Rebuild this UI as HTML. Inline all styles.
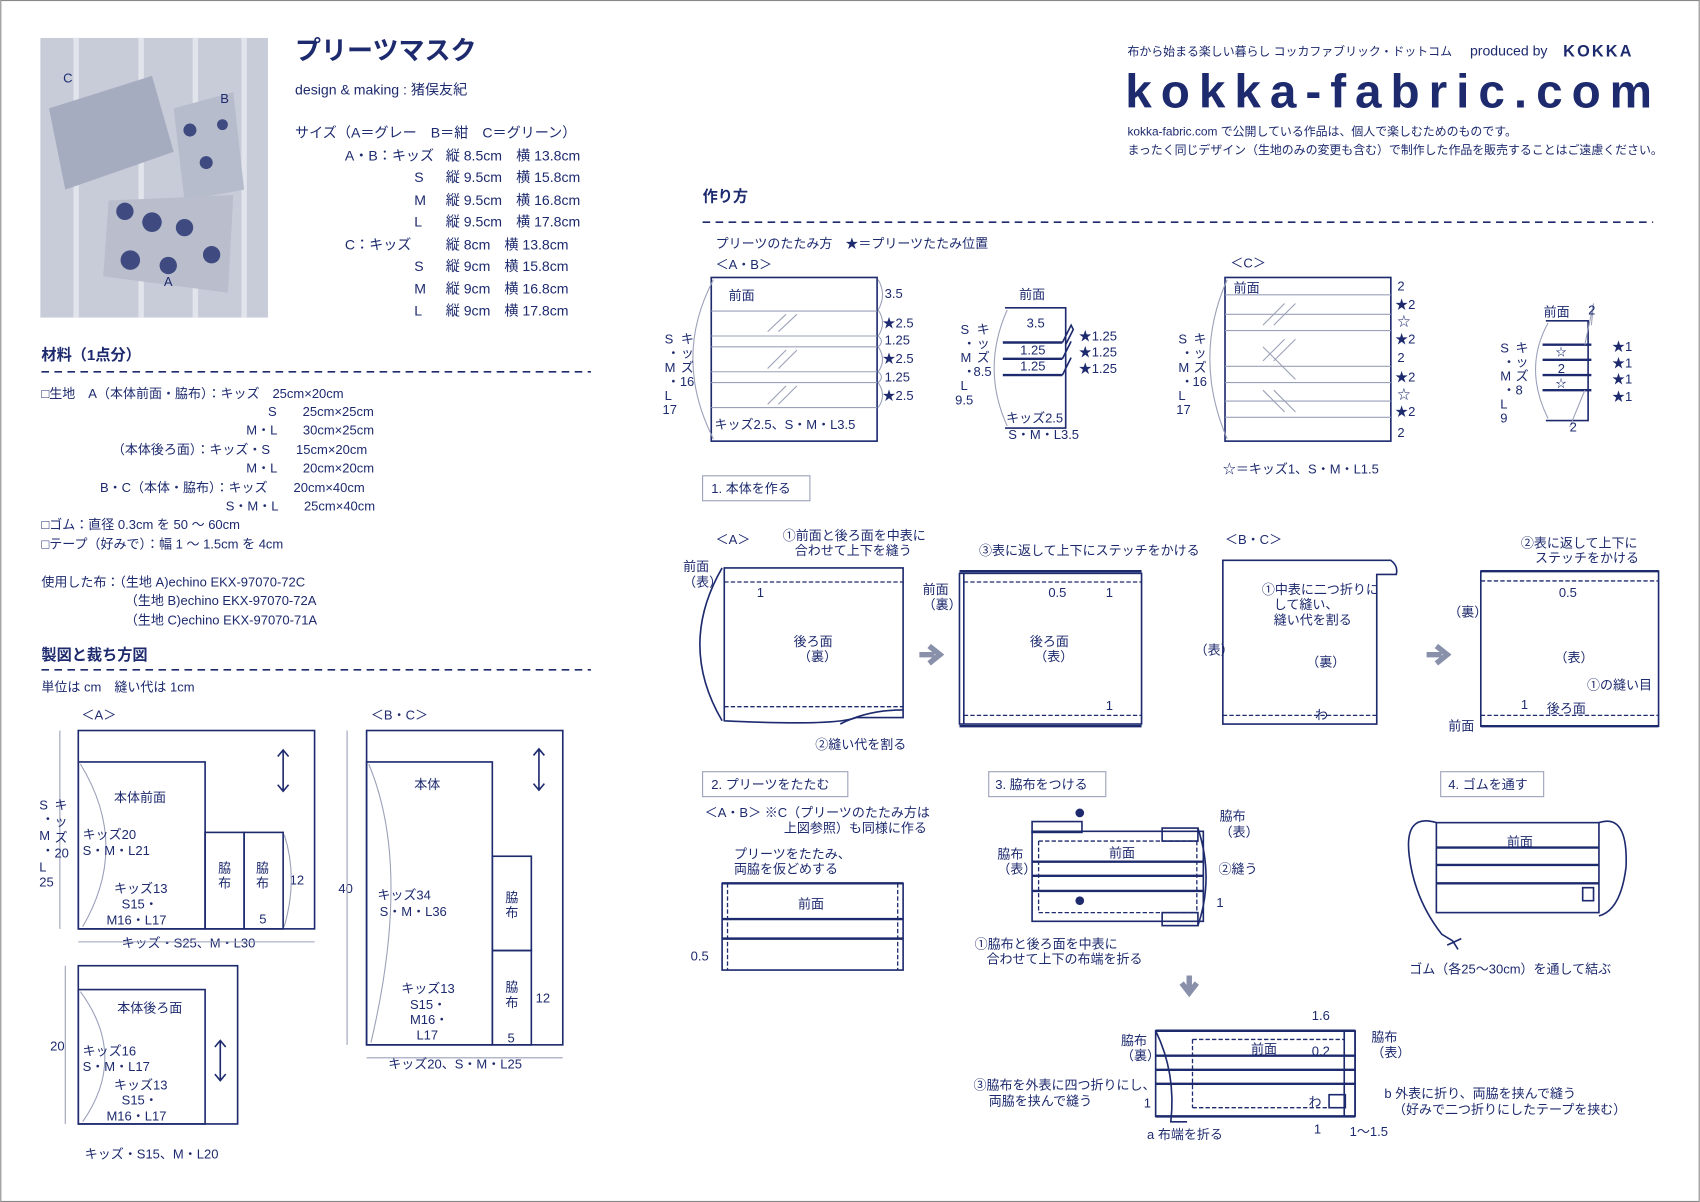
<!DOCTYPE html>
<html><head><meta charset="utf-8"><style>
html,body{margin:0;padding:0;background:#fff}
svg{display:block}
text{font-family:"Liberation Sans","Noto Sans CJK JP",sans-serif;fill:#1d2a6e;font-size:12px}
.b{font-weight:bold}
.l{stroke:#1d2a6e;fill:none;stroke-width:1.5}
.t{stroke:#1d2a6e;fill:none;stroke-width:2.2}
.g{stroke:#9aa0b8;fill:none;stroke-width:1}
.d{stroke:#1d2a6e;fill:none;stroke-width:1.2;stroke-dasharray:4 2}
.dl{stroke:#1d2a6e;stroke-width:1.5;stroke-dasharray:7 5}
.box{stroke:#9aa0b8;fill:#fff;stroke-width:1}
</style></head><body>
<svg width="1700" height="1202" viewBox="0 0 1568 1109" xmlns="http://www.w3.org/2000/svg">
<rect x="0.5" y="0.5" width="1567" height="1108" fill="#fff" stroke="#888" stroke-width="1"/>
<!-- photo -->
<rect x="37" y="35" width="210" height="258" fill="#c8ccd8"/>
<g stroke="#e8eaf0" stroke-width="5" opacity="0.8"><line x1="70" y1="35" x2="70" y2="293"/><line x1="130" y1="35" x2="130" y2="293"/><line x1="180" y1="35" x2="180" y2="293"/><line x1="225" y1="35" x2="225" y2="293"/></g>
<path d="M45 100 L140 70 L160 140 L60 175 Z" fill="#a6acc0"/>
<path d="M160 100 L215 85 L225 175 L170 185 Z" fill="#b7bccc"/>
<path d="M100 185 L215 180 L210 270 L95 255 Z" fill="#b9bdcc"/>
<g fill="#3e4a80"><circle cx="115" cy="195" r="8"/><circle cx="140" cy="205" r="9"/><circle cx="170" cy="210" r="8"/><circle cx="120" cy="240" r="9"/><circle cx="155" cy="245" r="8"/><circle cx="195" cy="235" r="8"/><circle cx="175" cy="120" r="6"/><circle cx="190" cy="150" r="6"/><circle cx="205" cy="115" r="5"/></g>
<text x="58" y="76">C</text><text x="203" y="95">B</text><text x="151" y="264">A</text>
<!-- title -->
<text x="272" y="55" class="b" style="font-size:24px">プリーツマスク</text>
<text x="272" y="87" style="font-size:13px">design &amp; making : 猪俣友紀</text>
<g style="font-size:13px">
<text x="272" y="127" style="font-size:13px">サイズ（A＝グレー　B＝紺　C＝グリーン）</text>
<text x="318" y="148" style="font-size:13px">A・B：キッズ</text><text x="411" y="148" style="font-size:13px">縦 8.5cm　横 13.8cm</text>
<text x="382" y="168" style="font-size:13px">S</text><text x="411" y="168" style="font-size:13px">縦 9.5cm　横 15.8cm</text>
<text x="382" y="189" style="font-size:13px">M</text><text x="411" y="189" style="font-size:13px">縦 9.5cm　横 16.8cm</text>
<text x="382" y="209" style="font-size:13px">L</text><text x="411" y="209" style="font-size:13px">縦 9.5cm　横 17.8cm</text>
<text x="318" y="230" style="font-size:13px">C：キッズ</text><text x="411" y="230" style="font-size:13px">縦 8cm　横 13.8cm</text>
<text x="382" y="250" style="font-size:13px">S</text><text x="411" y="250" style="font-size:13px">縦 9cm　横 15.8cm</text>
<text x="382" y="271" style="font-size:13px">M</text><text x="411" y="271" style="font-size:13px">縦 9cm　横 16.8cm</text>
<text x="382" y="291" style="font-size:13px">L</text><text x="411" y="291" style="font-size:13px">縦 9cm　横 17.8cm</text>
</g>
<text x="38" y="332" class="b" style="font-size:14px">材料（1点分）</text>
<line x1="38" y1="343" x2="545" y2="343" class="dl"/>
<g style="font-size:12.5px">
<text x="38" y="367">□生地　A（本体前面・脇布）：キッズ　25cm×20cm</text>
<text x="247" y="384">S　　25cm×25cm</text>
<text x="227" y="401">M・L　　30cm×25cm</text>
<text x="103" y="419">（本体後ろ面）：キッズ・S　　15cm×20cm</text>
<text x="227" y="436">M・L　　20cm×20cm</text>
<text x="92" y="454">B・C（本体・脇布）：キッズ　　20cm×40cm</text>
<text x="208" y="471">S・M・L　　25cm×40cm</text>
<text x="38" y="488">□ゴム：直径 0.3cm を 50 ～ 60cm</text>
<text x="38" y="506">□テープ（好みで）：幅 1 ～ 1.5cm を 4cm</text>
<text x="38" y="541">使用した布：（生地 A)echino EKX-97070-72C</text>
<text x="115" y="558">（生地 B)echino EKX-97070-72A</text>
<text x="115" y="576">（生地 C)echino EKX-97070-71A</text>
</g>
<text x="38" y="609" class="b" style="font-size:14px">製図と裁ち方図</text>
<line x1="38" y1="618" x2="545" y2="618" class="dl"/>
<text x="38" y="638">単位は cm　縫い代は 1cm</text>
<!-- pattern A -->
<text x="75" y="664">＜A＞</text>
<rect x="72" y="674" width="218" height="183" class="l"/>
<rect x="72" y="703" width="117" height="154" class="l"/>
<rect x="189" y="768" width="36" height="89" class="l"/><rect x="225" y="768" width="36" height="89" class="l"/>
<path d="M261 693 V729 M256 698 L261 692 L266 698 M256 724 L261 730 L266 724" class="l" stroke-width="1.2"/>
<path d="M74 705 Q120 780 76 855" class="g"/>
<text x="105" y="740">本体前面</text>
<text x="76" y="774">キッズ20</text><text x="76" y="789">S・M・L21</text>
<text x="105" y="824">キッズ13</text><text x="112" y="838">S15・</text><text x="98" y="853">M16・L17</text>
<text x="201" y="805">脇</text><text x="201" y="819">布</text><text x="236" y="805">脇</text><text x="236" y="819">布</text>
<text x="267" y="816">12</text><text x="239" y="852">5</text>
<path d="M262 770 Q275 810 262 855" class="g"/>
<text x="112" y="874">キッズ・S25、M・L30</text>
<line x1="72" y1="869" x2="290" y2="869" class="g"/>
<line x1="55" y1="674" x2="55" y2="857" class="g"/>
<g style="font-size:12px"><text x="36" y="747">S</text><text x="50" y="747">キ</text><text x="38" y="760">・</text><text x="50" y="762">ッ</text><text x="36" y="775">M</text><text x="50" y="777">ズ</text><text x="38" y="789">・</text><text x="50" y="791">20</text><text x="36" y="804">L</text><text x="36" y="818">25</text></g>
<rect x="72" y="891" width="147" height="146" class="l"/>
<rect x="72" y="913" width="117" height="124" class="l"/>
<path d="M74 915 Q118 975 76 1035" class="g"/>
<path d="M203 961 V996 M198 966 L203 960 L208 966 M198 991 L203 997 L208 991" class="l" stroke-width="1.2"/>
<text x="108" y="934">本体後ろ面</text>
<text x="76" y="974">キッズ16</text><text x="76" y="988">S・M・L17</text>
<text x="105" y="1005">キッズ13</text><text x="112" y="1019">S15・</text><text x="98" y="1034">M16・L17</text>
<text x="46" y="969">20</text><line x1="60" y1="891" x2="60" y2="1037" class="g"/>
<text x="78" y="1069">キッズ・S15、M・L20</text>
<!-- pattern BC -->
<text x="342" y="664">＜B・C＞</text>
<rect x="338" y="674" width="181" height="290" class="l"/>
<rect x="338" y="703" width="116" height="261" class="l"/>
<path d="M340 705 Q380 800 342 962" class="g"/>
<rect x="454" y="790" width="36" height="87" class="l"/><rect x="454" y="877" width="36" height="87" class="l"/>
<path d="M497 692 V728 M492 697 L497 691 L502 697 M492 723 L497 729 L502 723" class="l" stroke-width="1.2"/>
<text x="382" y="728">本体</text>
<text x="348" y="830">キッズ34</text><text x="350" y="845">S・M・L36</text>
<text x="370" y="916">キッズ13</text><text x="378" y="931">S15・</text><text x="378" y="945">M16・</text><text x="384" y="959">L17</text>
<text x="466" y="832">脇</text><text x="466" y="846">布</text><text x="466" y="915">脇</text><text x="466" y="929">布</text>
<text x="494" y="925">12</text><text x="468" y="962">5</text>
<text x="312" y="824">40</text><line x1="320" y1="674" x2="320" y2="964" class="g"/>
<line x1="338" y1="976" x2="519" y2="976" class="g"/>
<text x="358" y="986">キッズ20、S・M・L25</text>
<!-- header right -->
<text x="1040" y="51" style="font-size:11px">布から始まる楽しい暮らし コッカファブリック・ドットコム</text>
<text x="1356" y="51" style="font-size:13px">produced by</text>
<text x="1442" y="52" class="b" style="font-size:15px;letter-spacing:2px">KOKKA</text>
<text x="1038" y="99" textLength="492" lengthAdjust="spacing" style="font-size:44px;font-weight:bold;letter-spacing:6px">kokka-fabric.com</text>
<text x="1040" y="125" style="font-size:11px">kokka-fabric.com で公開している作品は、個人で楽しむためのものです。</text>
<text x="1040" y="142" style="font-size:11px">まったく同じデザイン（生地のみの変更も含む）で制作した作品を販売することはご遠慮ください。</text>
<text x="648" y="186" class="b" style="font-size:14px">作り方</text>
<line x1="648" y1="205" x2="1525" y2="205" class="dl"/>
<text x="660" y="229">プリーツのたたみ方　★＝プリーツたたみ位置</text>
<text x="660" y="248">＜A・B＞</text>
<!-- AB fold -->
<rect x="656" y="256" width="153" height="151" class="l"/>
<g class="g"><line x1="656" y1="287" x2="809" y2="287"/><line x1="656" y1="310" x2="809" y2="310"/><line x1="656" y1="320" x2="809" y2="320"/><line x1="656" y1="343" x2="809" y2="343"/><line x1="656" y1="353" x2="809" y2="353"/><line x1="656" y1="376" x2="809" y2="376"/>
<path d="M708 306 L725 290 M718 306 L735 290 M708 340 L725 323 M718 340 L735 323 M708 373 L725 356 M718 373 L735 356"/>
<path d="M658 258 Q620 330 658 405"/>
<path d="M810 258 Q818 272 810 286 Q818 298 810 310 Q816 315 810 320 Q818 332 810 343 Q816 348 810 353 Q818 365 810 376"/></g>
<text x="672" y="277">前面</text>
<text x="816" y="275">3.5</text><text x="814" y="302">★2.5</text><text x="816" y="318">1.25</text><text x="814" y="335">★2.5</text><text x="816" y="352">1.25</text><text x="814" y="369">★2.5</text>
<text x="659" y="396">キッズ2.5、S・M・L3.5</text>
<g><text x="613" y="317">S</text><text x="628" y="317">キ</text><text x="615" y="330">・</text><text x="628" y="330">ッ</text><text x="613" y="343">M</text><text x="628" y="343">ズ</text><text x="615" y="356">・</text><text x="627" y="356">16</text><text x="613" y="369">L</text><text x="611" y="382">17</text></g>
<!-- small AB -->
<path d="M927 284 H983 V395 H927" class="l"/>
<path d="M925 316 H980 M925 331 H980 M925 346 H980" class="t"/>
<path d="M929 286 Q905 340 929 393" class="g"/>
<path d="M980 316 L988 300 L990 304 L983 318 M980 331 L988 315 M980 346 L988 330" class="l"/>
<text x="940" y="276">前面</text><text x="947" y="302">3.5</text><text x="941" y="327">1.25</text><text x="941" y="342">1.25</text>
<text x="995" y="314">★1.25</text><text x="995" y="329">★1.25</text><text x="995" y="344">★1.25</text>
<text x="886" y="308">S</text><text x="901" y="308">キ</text><text x="888" y="321">・</text><text x="901" y="321">ッ</text><text x="886" y="334">M</text><text x="901" y="334">ズ</text><text x="888" y="347">・</text><text x="898" y="347">8.5</text><text x="886" y="360">L</text><text x="881" y="373">9.5</text>
<text x="928" y="390">キッズ2.5</text><text x="930" y="405">S・M・L3.5</text>
<!-- C fold -->
<text x="1135" y="247">＜C＞</text>
<rect x="1130" y="256" width="153" height="151" class="l"/>
<g class="g"><line x1="1130" y1="272" x2="1283" y2="272"/><line x1="1130" y1="290" x2="1283" y2="290"/><line x1="1130" y1="305" x2="1283" y2="305"/><line x1="1130" y1="338" x2="1283" y2="338"/><line x1="1130" y1="353" x2="1283" y2="353"/><line x1="1130" y1="370" x2="1283" y2="370"/><line x1="1130" y1="385" x2="1283" y2="385"/>
<path d="M1165 300 L1185 280 M1175 300 L1195 280 M1165 333 L1185 313 M1175 333 L1195 313 M1165 360 L1185 380 M1175 360 L1195 380 M1165 320 L1180 335 M1180 335 L1195 350"/>
<path d="M1132 258 Q1100 330 1132 405"/></g>
<g style="font-size:12px"><text x="1289" y="268">2</text><text x="1287" y="285">★2</text><text x="1289" y="301">☆</text><text x="1287" y="317">★2</text><text x="1289" y="334">2</text><text x="1287" y="352">★2</text><text x="1289" y="368">☆</text><text x="1287" y="384">★2</text><text x="1289" y="403">2</text></g>
<text x="1138" y="270">前面</text>
<text x="1087" y="317">S</text><text x="1101" y="317">キ</text><text x="1089" y="330">・</text><text x="1101" y="330">ッ</text><text x="1087" y="343">M</text><text x="1101" y="343">ズ</text><text x="1089" y="356">・</text><text x="1100" y="356">16</text><text x="1087" y="369">L</text><text x="1085" y="382">17</text>
<text x="1128" y="437">☆＝キッズ1、S・M・L1.5</text>
<!-- small C -->
<path d="M1426 296 H1465 V388 H1426" class="l"/>
<path d="M1423 318 H1468 M1423 332 H1468 M1423 346 H1468 M1423 360 H1468" class="t"/>
<path d="M1428 298 Q1405 340 1428 386" class="g"/>
<path d="M1470 280 L1462 318 M1470 280 L1468 300 M1448 394 L1462 360" class="g"/>
<text x="1424" y="292">前面</text><text x="1465" y="290">2</text><text x="1437" y="344">2</text><text x="1435" y="328" style="font-size:10px">☆</text><text x="1435" y="357" style="font-size:10px">☆</text><text x="1448" y="398">2</text>
<text x="1487" y="324">★1</text><text x="1487" y="339">★1</text><text x="1487" y="354">★1</text><text x="1487" y="370">★1</text>
<text x="1384" y="325">S</text><text x="1398" y="325">キ</text><text x="1386" y="338">・</text><text x="1398" y="338">ッ</text><text x="1384" y="351">M</text><text x="1398" y="351">ズ</text><text x="1386" y="364">・</text><text x="1398" y="364">8</text><text x="1384" y="377">L</text><text x="1384" y="390">9</text>
<!-- step 1 -->
<rect x="648" y="439" width="99" height="23" class="box"/><text x="656" y="455">1. 本体を作る</text>
<text x="660" y="502">＜A＞</text>
<text x="722" y="498">①前面と後ろ面を中表に</text><text x="733" y="512">合わせて上下を縫う</text>
<path d="M668 524 H833 V662 H790 Q770 670 668 665 Z" class="l"/>
<path d="M666 524 Q625 595 666 665" class="l"/>
<line x1="668" y1="537" x2="833" y2="537" class="d"/><line x1="668" y1="652" x2="833" y2="652" class="d"/>
<path d="M775 668 Q800 655 833 655" class="l"/>
<text x="630" y="527">前面</text><text x="630" y="541">（表）</text><text x="698" y="551">1</text>
<text x="732" y="596">後ろ面</text><text x="736" y="610">（裏）</text>
<text x="752" y="691">②縫い代を割る</text>
<path d="M848 604 H862 M857 596 L867 604 L857 612" stroke="#8890aa" stroke-width="5" fill="none"/>
<text x="903" y="512">③表に返して上下にステッチをかける</text>
<rect x="885" y="529" width="168" height="139" class="l"/>
<line x1="889" y1="529" x2="889" y2="668" class="l"/>
<path d="M885 527 H1053 M885 670 H1053" class="t"/>
<line x1="889" y1="537" x2="1053" y2="537" class="d"/><line x1="889" y1="660" x2="1053" y2="660" class="d"/>
<text x="851" y="548">前面</text><text x="851" y="562">（裏）</text>
<text x="967" y="551">0.5</text><text x="1020" y="551">1</text><text x="1020" y="655">1</text>
<text x="950" y="596">後ろ面</text><text x="954" y="610">（表）</text>
<text x="1130" y="502">＜B・C＞</text>
<path d="M1128 517 H1283 Q1290 522 1288 530 H1270 V668 H1128 Z" class="l"/>
<line x1="1128" y1="660" x2="1270" y2="660" class="d"/>
<text x="1164" y="548">①中表に二つ折りに</text><text x="1175" y="562">して縫い、</text><text x="1175" y="576">縫い代を割る</text>
<text x="1102" y="604">（表）</text><text x="1205" y="615">（裏）</text><text x="1213" y="664">わ</text>
<path d="M1316 604 H1330 M1325 596 L1335 604 L1325 612" stroke="#8890aa" stroke-width="5" fill="none"/>
<text x="1403" y="505">②表に返して上下に</text><text x="1416" y="519">ステッチをかける</text>
<rect x="1366" y="527" width="164" height="143" class="l"/>
<path d="M1366 527 H1530 M1366 670 H1530" class="t"/>
<line x1="1366" y1="536" x2="1530" y2="536" class="d"/><line x1="1366" y1="660" x2="1530" y2="660" class="d"/>
<text x="1438" y="551">0.5</text><text x="1336" y="569">（裏）</text><text x="1434" y="611">（表）</text>
<text x="1464" y="636">①の縫い目</text><text x="1403" y="654">1</text><text x="1427" y="658">後ろ面</text><text x="1336" y="674">前面</text>
<!-- step 2 -->
<rect x="648" y="712" width="134" height="23" class="box"/><text x="656" y="728">2. プリーツをたたむ</text>
<text x="650" y="754">＜A・B＞ ※C（プリーツのたたみ方は</text><text x="723" y="768">上図参照）も同様に作る</text>
<text x="677" y="792">プリーツをたたみ、</text><text x="677" y="806">両脇を仮どめする</text>
<rect x="666" y="815" width="167" height="80" class="l"/>
<path d="M666 815 H833 M666 848 H833 M666 866 H833" class="t"/>
<path d="M671 815 V895 M828 815 V895" class="d"/>
<text x="736" y="838">前面</text><text x="637" y="886">0.5</text>
<!-- step 3 -->
<rect x="912" y="712" width="108" height="23" class="box"/><text x="918" y="728">3. 脇布をつける</text>
<circle cx="996" cy="750" r="4" fill="#1d2a6e"/>
<path d="M952 767 H1110 V850 H952 Z" class="l"/>
<rect x="952" y="758" width="46" height="10" class="l"/>
<line x1="958" y1="776" x2="1104" y2="776" class="d"/><line x1="958" y1="842" x2="1104" y2="842" class="d"/>
<path d="M958 776 V842 M1104 776 V842" class="d"/>
<path d="M952 795 H1110 M952 808 H1110 M952 822 H1110" class="t"/>
<rect x="1072" y="764" width="33" height="12" class="l"/><rect x="1072" y="842" width="33" height="12" class="l"/>
<path d="M1105 764 Q1120 810 1105 854" class="l"/>
<circle cx="996" cy="831" r="4" fill="#1d2a6e"/>
<text x="1023" y="791">前面</text><text x="920" y="792">脇布</text><text x="920" y="806">（表）</text>
<text x="1125" y="757">脇布</text><text x="1125" y="772">（表）</text><text x="1124" y="806">②縫う</text><text x="1122" y="837">1</text>
<text x="899" y="875">①脇布と後ろ面を中表に</text><text x="910" y="889">合わせて上下の布端を折る</text>
<path d="M1097 900 V912 M1090 907 L1097 916 L1104 907" stroke="#8890aa" stroke-width="5" fill="none"/>
<rect x="1066" y="951" width="184" height="79" class="l"/>
<path d="M1066 951 H1250 M1066 1030 H1250" class="t"/>
<line x1="1100" y1="959" x2="1240" y2="959" class="d"/><line x1="1100" y1="1022" x2="1240" y2="1022" class="d"/>
<path d="M1100 959 V1022" class="d"/>
<path d="M1066 974 H1250 M1066 987 H1250 M1066 1000 H1250" class="t"/>
<path d="M1066 951 Q1085 990 1080 1035 L1095 1035" class="l"/>
<path d="M1240 951 V1030 M1250 951 V1030" class="l"/><rect x="1226" y="1010" width="15" height="12" class="l"/>
<text x="1154" y="972">前面</text><text x="1210" y="974">0.2</text><text x="1210" y="941">1.6</text>
<text x="1034" y="964">脇布</text><text x="1034" y="978">（裏）</text><text x="1265" y="961">脇布</text><text x="1265" y="975">（表）</text>
<text x="898" y="1005">③脇布を外表に四つ折りにし、</text><text x="912" y="1020">両脇を挟んで縫う</text>
<text x="1055" y="1022">1</text><text x="1207" y="1021">わ</text><text x="1212" y="1046">1</text><text x="1245" y="1048">1～1.5</text>
<text x="1058" y="1051">a 布端を折る</text>
<text x="1277" y="1013">b 外表に折り、両脇を挟んで縫う</text><text x="1285" y="1028">（好みで二つ折りにしたテープを挟む）</text>
<!-- step 4 -->
<rect x="1329" y="712" width="95" height="23" class="box"/><text x="1336" y="728">4. ゴムを通す</text>
<rect x="1325" y="759" width="150" height="83" class="l"/>
<path d="M1325 782 H1475 M1325 798 H1475 M1325 815 H1475" class="t"/>
<rect x="1460" y="819" width="10" height="12" class="l"/>
<path d="M1325 759 Q1295 750 1300 790 Q1305 830 1330 862 L1340 868" class="l"/>
<path d="M1475 759 Q1502 750 1500 800 Q1495 840 1475 845" class="l"/>
<path d="M1340 868 L1345 876 M1335 872 L1348 866" class="l"/>
<text x="1390" y="781">前面</text>
<text x="1300" y="898">ゴム（各25～30cm）を通して結ぶ</text>
</svg>
</body></html>
